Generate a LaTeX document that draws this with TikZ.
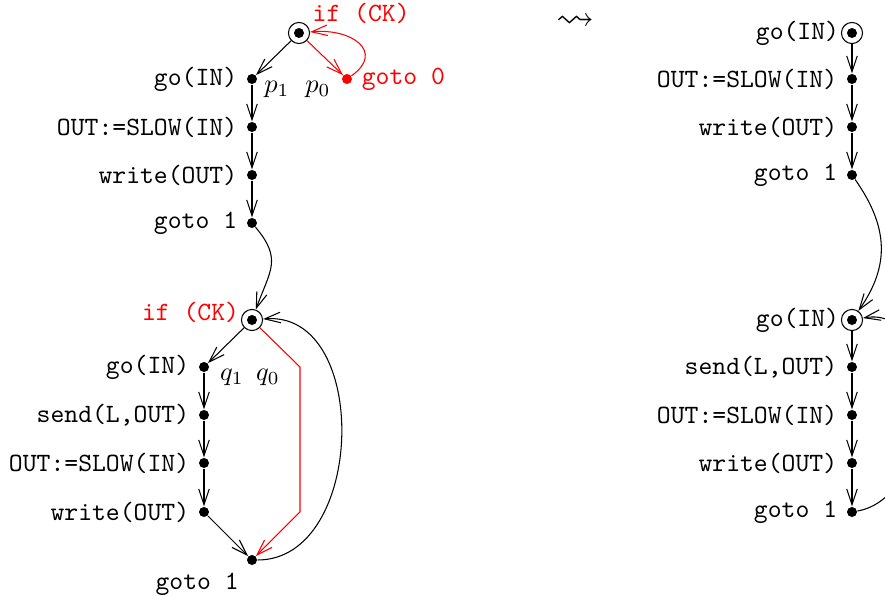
\documentclass[tikz,border=0pt]{standalone}
\usepackage{amssymb}
\usetikzlibrary{arrows.meta}
\tikzset{
  dot/.style={circle, fill, inner sep=0pt, minimum size=3.8pt},
  init/.style={circle, draw, inner sep=0pt, minimum size=8pt,
    path picture={\fill (path picture bounding box.center) circle (1.9pt);}},
  arr/.style={-{Straight Barb[length=6pt,width=4pt]}},
  every label/.append style={font=\ttfamily},
}
\begin{document}
\begin{tikzpicture}[x=0.3788pt, y=-0.3788pt]
            \useasboundingbox (0,0) rectangle (885,596);
            % left, first block
            \node[init, label={[red, inner sep=2pt, yshift=-1.5pt]above right:{if (CK)}}] (ifa) at (299,33) {};
            \node[dot, label={left:{go(IN)}}] (goa) at (252,79) {};
            \node[dot, red, label={[red]right:{goto 0}}] (gza) at (347,79) {};
            \node[dot, label={left:{OUT:=SLOW(IN)}}] (slowa) at (252,127) {};
            \node[dot, label={left:{write(OUT)}}] (writea) at (252,175) {};
            \node[dot, label={left:{goto 1}}] (gotoa) at (252,223) {};
            \node (pa) at (277,89) {$p_1$};
            \node (pb) at (318,89) {$p_0$};
            \draw[arr] (ifa)--(goa);
            \draw[arr, red] (ifa)--(gza);
            \draw[arr, red] (gza) .. controls (385,52) and (352,28) .. (ifa);
            \draw[arr] (goa)--(slowa);
            \draw[arr] (slowa)--(writea);
            \draw[arr] (writea)--(gotoa);
            % left, second block
            \node[init, label={[red, inner sep=0.5pt, yshift=3pt]left:{if (CK)}}] (ifb) at (252,320) {};
            \node[dot, label={left:{go(IN)}}] (gob) at (204,367) {};
            \node[dot, label={left:{send(L,OUT)}}] (sendb) at (204,415) {};
            \node[dot, label={left:{OUT:=SLOW(IN)}}] (slowb) at (204,463) {};
            \node[dot, label={left:{write(OUT)}}] (writeb) at (204,512) {};
            \node[dot, label={below left:{goto 1}}] (gotob) at (252,560) {};
            \node (qa) at (232,377) {$q_1$};
            \node (qb) at (268,377) {$q_0$};
            \coordinate (ra) at (300,367);
            \coordinate (rb) at (300,512);
            \draw[arr] (gotoa) to[out=-50, in=70, looseness=1.3] (ifb);
            \draw[arr] (ifb)--(gob);
            \draw[arr] (gob)--(sendb);
            \draw[arr] (sendb)--(slowb);
            \draw[arr] (slowb)--(writeb);
            \draw[arr] (writeb)--(gotob);
            \draw[arr, red] (ifb)--(ra)--(rb)--(gotob);
            \draw[arr] (gotob) to[out=0, in=5, looseness=1.15] (ifb);
            % rewriting
            \node[inner sep=0pt] (lt) at (576,22) {\Large$\leadsto$};
            % right, first block
            \node[init, label={[inner sep=0.5pt]left:{go(IN)}}] (goc) at (852,33) {};
            \node[dot, label={left:{OUT:=SLOW(IN)}}] (slowc) at (852,79) {};
            \node[dot, label={left:{write(OUT)}}] (writec) at (852,127) {};
            \node[dot, label={left:{goto 1}}] (gotoc) at (852,175) {};
            \draw[arr] (goc)--(slowc);
            \draw[arr] (slowc)--(writec);
            \draw[arr] (writec)--(gotoc);
            % right, second block
            \node[init, label={[inner sep=0.5pt]left:{go(IN)}}] (god) at (852,320) {};
            \node[dot, label={left:{send(L,OUT)}}] (sendd) at (852,367) {};
            \node[dot, label={left:{OUT:=SLOW(IN)}}] (slowd) at (852,415) {};
            \node[dot, label={left:{write(OUT)}}] (writed) at (852,463) {};
            \node[dot, label={left:{goto 1}}] (gotod) at (852,512) {};
            \draw[arr] (gotoc) to[out=-55, in=55, looseness=1.1] (god);
            \draw[arr] (god)--(sendd);
            \draw[arr] (sendd)--(slowd);
            \draw[arr] (slowd)--(writed);
            \draw[arr] (writed)--(gotod);
            \draw[arr] (gotod) to[out=10, in=10, looseness=1.1] (god);
        \end{tikzpicture}
\end{document}
